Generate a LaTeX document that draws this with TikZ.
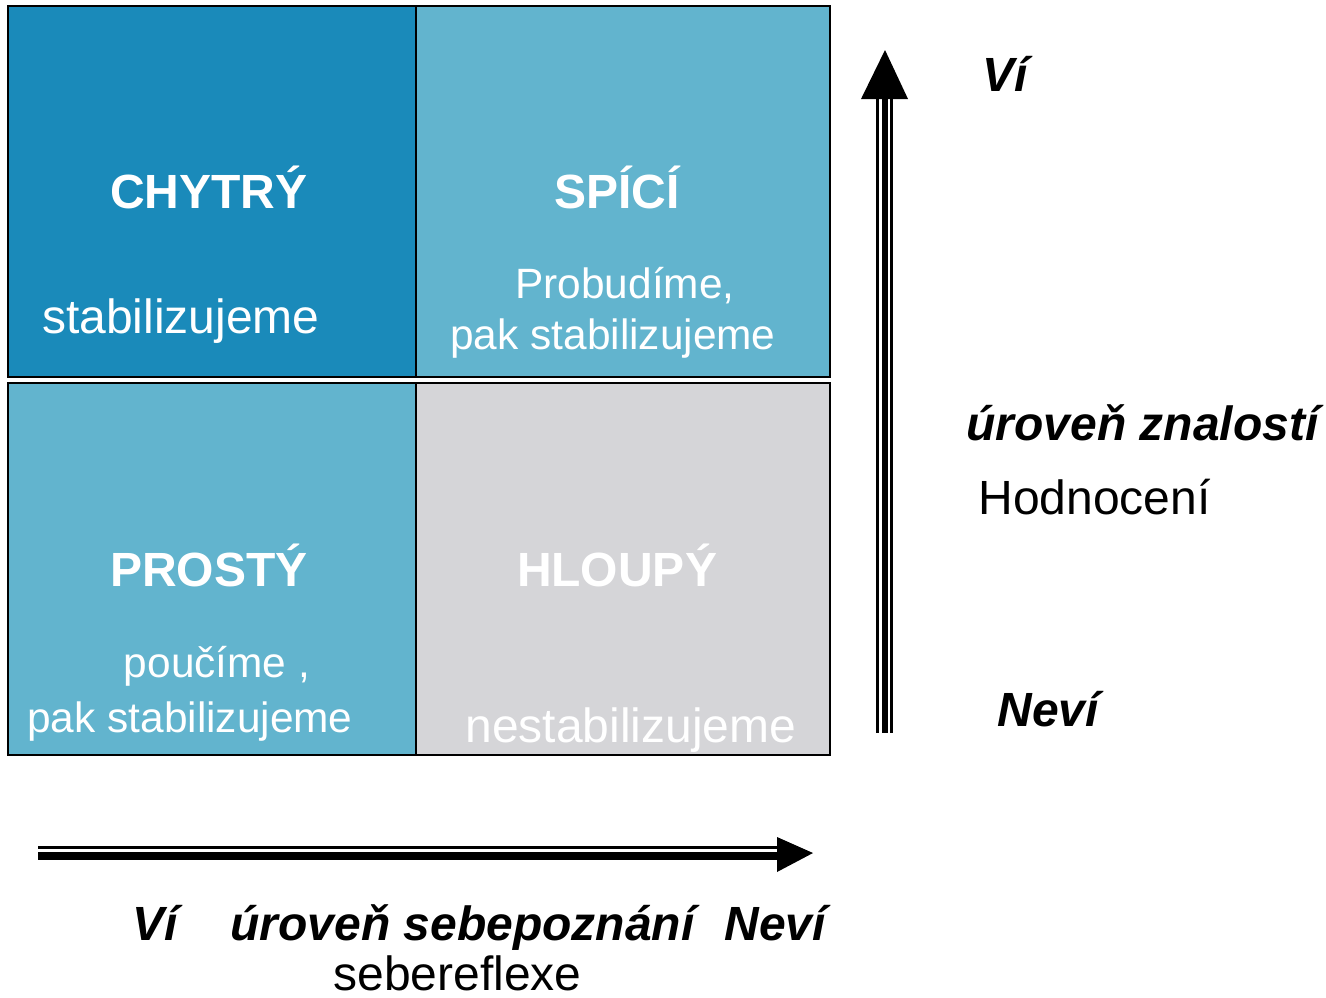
\documentclass[tikz,border=0pt]{standalone}
\usepackage{fontspec}
\setmainfont{Liberation Sans}
\definecolor{darkblue}{HTML}{1A8ABA}
\definecolor{lightblue}{HTML}{62B4CE}
\definecolor{cellgray}{HTML}{D5D5D8}
\tikzset{
  cell/.style={draw=black,line width=1pt},
  lbl/.style={font=\fontsize{24}{28}\selectfont, anchor=base, inner sep=0pt},
  wlbl/.style={lbl, text=white},
  slbl/.style={lbl, text=white, font=\fontsize{21.2}{25}\selectfont},
  hlbl/.style={lbl, text=white, font=\fontsize{24}{28}\selectfont\bfseries},
  blbl/.style={lbl, text=black},
  bi/.style={font=\fontsize{24}{28}\selectfont\bfseries\itshape},
}
\begin{document}
\begin{tikzpicture}[x=0.5pt,y=-0.5pt]
\useasboundingbox (0,0) rectangle (1326,997);
% cells
\draw[cell,fill=darkblue] (8,6) rectangle (416,377);
\draw[cell,fill=lightblue] (416,6) rectangle (830,377);
\draw[cell,fill=lightblue] (8,383) rectangle (416,755);
\draw[cell,fill=cellgray] (416,383) rectangle (830,755);
% cell texts
\node[hlbl] (chytry) at (209,208) {CHYTRÝ};
\node[wlbl] (stab1) at (181,333) {stabilizujeme};
\node[hlbl] (spici) at (617,208) {SPÍCÍ};
\node[slbl] (prob) at (625,298) {Probudíme,};
\node[slbl] (stab2) at (613,349) {pak stabilizujeme};
\node[hlbl] (prosty) at (209,586) {PROSTÝ};
\node[slbl] (poucime) at (217,677) {poučíme ,};
\node[slbl] (stab3) at (190,732) {pak stabilizujeme};
\node[hlbl] (hloupy) at (617,586) {HLOUPÝ};
\node[wlbl] (nestab) at (631,742) {nestabilizujeme};
% vertical arrow
\coordinate (vbot) at (885,733);
\coordinate (vtop) at (885,99);
\coordinate (vtip) at (885,50);
\fill ([xshift=-4.5pt]vbot) rectangle ([xshift=-3pt]vtop);
\fill ([xshift=-1.5pt]vbot) rectangle ([xshift=1.5pt]vtop);
\fill ([xshift=2.5pt]vbot) rectangle ([xshift=3.8pt]vtop);
\fill ([xshift=-12pt]vtop) -- ([xshift=11.5pt]vtop) -- (vtip) -- cycle;
% horizontal arrow
\coordinate (hstart) at (38,853);
\coordinate (hend) at (777,853);
\coordinate (htip) at (813,853);
\fill ([yshift=3.5pt]hstart) rectangle ([yshift=2pt]hend);
\fill ([yshift=0.5pt]hstart) rectangle ([yshift=-3.5pt]hend);
\fill ([yshift=8pt]hend) -- ([yshift=-9.5pt]hend) -- (htip) -- cycle;
% right labels
\node[blbl,anchor=base west,bi] (vi1) at (982,91) {Ví};
\node[blbl,anchor=base west,bi] (uz) at (966,440) {úroveň znalostí};
\node[blbl,anchor=base west] (hod) at (978,514) {Hodnocení};
\node[blbl,anchor=base west,bi] (nevi1) at (997,726) {Neví};
% bottom labels
\node[blbl,anchor=base west,bi] (vi2) at (132,940) {Ví};
\node[blbl,anchor=base west,bi] (us) at (230,940) {úroveň sebepoznání};
\node[blbl,anchor=base west,bi] (nevi2) at (724,940) {Neví};
\node[blbl,anchor=base west] (seb) at (333,990) {sebereflexe};
\end{tikzpicture}
\end{document}
